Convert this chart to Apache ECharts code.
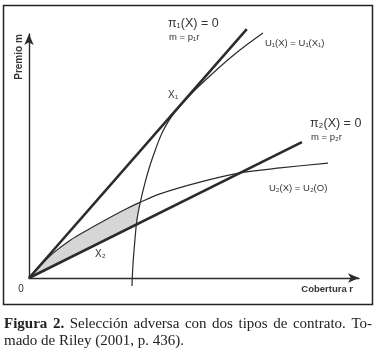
<!DOCTYPE html>
<html>
<head>
<meta charset="utf-8">
<script src="https://cdn.jsdelivr.net/npm/echarts@6/dist/echarts.min.js"></script>
<style>
  html, body { margin: 0; padding: 0; background: #fff; }
  #chart { width: 381px; height: 356px; }
</style>
</head>
<body>
<div id="chart"></div>
<script>
// Axis ranges (coverage r, premium m)
const rRange = [0, 100];
const mRange = [0, 100];

// Zero-profit lines m = p1 r and m = p2 r
const zeroProfit1 = [[0, 0], [66, 102]];
const zeroProfit2 = [[0, 0], [82.7, 55.7]];

// Indifference curve U1(X) = U1(X1)
const indiff1 = [
  [31.2, -3.3], [31.5, 5.3], [32.1, 15.6], [32.7, 23.8], [33.6, 30.3],
  [35.2, 39.3], [36.7, 46.3], [38.5, 53.3], [40.3, 59.4], [42.1, 63.9],
  [44.2, 68.0], [48.8, 75.0], [54.8, 82.8], [62.4, 91.8], [70.9, 100.4]
];

// Indifference curve U2(X) = U2(O)
const indiff2 = [
  [0, 0], [3.3, 4.8], [7.3, 10.2], [12.4, 15.4], [17.6, 19.6], [23.0, 23.7],
  [29.1, 28.1], [33.6, 31.0], [39.7, 34.5], [51.8, 39.3], [63.6, 43.0],
  [76.1, 45.1], [90.6, 47.1]
];

// Shaded lens between U2 and m = p2 r, cut off by U1
const shaded = [
  [0, 0], [3.3, 4.8], [7.3, 10.2], [12.4, 15.4], [17.6, 19.6], [23.0, 23.7],
  [29.1, 28.1], [33.6, 31.0], [32.6, 21.9]
];

// Caption text, first line justified
const captionBold = ['Figura', '2.'];
const captionLine1 = ['Selección', 'adversa', 'con', 'dos', 'tipos', 'de', 'contrato.', 'To-'];
const captionLine2 = 'mado de Riley (2001, p. 436).';

const ink = '#2b2b2b';
const sans = '"Liberation Sans", Arial, sans-serif';
const serif = '"Liberation Serif", "Times New Roman", serif';
const capSize = 15;

const chart = echarts.init(document.getElementById('chart'), null, { renderer: 'canvas' });

function lineSeries(data, width, smooth) {
  return {
    type: 'line',
    data: data,
    symbol: 'none',
    smooth: smooth,
    clip: false,
    silent: true,
    lineStyle: { color: ink, width: width },
    z: 3
  };
}

function label(text, x, y, size, extra) {
  return Object.assign({
    type: 'text',
    x: x,
    y: y,
    silent: true,
    style: Object.assign({
      text: text,
      fontFamily: sans,
      fontSize: size,
      fill: '#333',
      textAlign: 'left',
      textVerticalAlign: 'middle'
    }, (extra && extra.style) || {})
  }, extra && extra.el ? extra.el : {});
}

// Lay out one justified caption line word by word
function justifiedLine(words, y, left, right) {
  const ctx = document.createElement('canvas').getContext('2d');
  const items = words.map(function (w) {
    ctx.font = (w.bold ? 'bold ' : '') + capSize + 'px ' + serif;
    return { text: w.text, bold: w.bold, width: ctx.measureText(w.text).width };
  });
  const total = items.reduce(function (s, it) { return s + it.width; }, 0);
  const gap = (right - left - total) / (items.length - 1);
  let x = left;
  return items.map(function (it) {
    const el = label(it.text, x, y, capSize, {
      style: { fontFamily: serif, fontWeight: it.bold ? 'bold' : 'normal', fill: '#222' }
    });
    x += it.width + gap;
    return el;
  });
}

const line1Words = captionBold.map(function (t) { return { text: t, bold: true }; })
  .concat(captionLine1.map(function (t) { return { text: t, bold: false }; }));

const option = {
  animation: false,
  backgroundColor: '#fff',
  grid: { left: 29, top: 34, right: 22, bottom: 78, containLabel: false },
  xAxis: {
    type: 'value',
    min: rRange[0],
    max: rRange[1],
    axisLine: {
      show: true,
      lineStyle: { color: ink, width: 1.4 },
      symbol: ['none', 'arrow'],
      symbolSize: [7, 11]
    },
    axisTick: { show: false },
    axisLabel: { show: false },
    splitLine: { show: false }
  },
  yAxis: {
    type: 'value',
    min: mRange[0],
    max: mRange[1],
    axisLine: {
      show: true,
      lineStyle: { color: ink, width: 1.4 },
      symbol: ['none', 'arrow'],
      symbolSize: [7, 11]
    },
    axisTick: { show: false },
    axisLabel: { show: false },
    splitLine: { show: false }
  },
  series: [
    {
      type: 'custom',
      data: [[0, 0]],
      clip: false,
      silent: true,
      z: 1,
      renderItem: function (params, api) {
        return {
          type: 'polygon',
          shape: { points: shaded.map(function (p) { return api.coord(p); }) },
          style: { fill: '#d6d6d6', stroke: 'none' }
        };
      }
    },
    lineSeries(zeroProfit1, 2.6, false),
    lineSeries(zeroProfit2, 2.6, false),
    lineSeries(indiff1, 1.2, 0.4),
    lineSeries(indiff2, 1.2, 0.3)
  ],
  graphic: [
    {
      type: 'rect',
      silent: true,
      shape: { x: 3.5, y: 5.5, width: 369, height: 299 },
      style: { fill: 'none', stroke: '#222', lineWidth: 1.5 }
    },
    label('Premio m', 19, 57, 10, {
      el: { rotation: Math.PI / 2 },
      style: { fontWeight: 'bold', textAlign: 'center' }
    }),
    label('Cobertura r', 353, 289, 9.5, { style: { fontWeight: 'bold', textAlign: 'right' } }),
    label('0', 21, 289, 10, { style: { textAlign: 'center' } }),
    label('π₁(X) = 0', 168, 24, 12.5),
    label('m = p₁r', 169, 37, 9.5),
    label('U₁(X) = U₁(X₁)', 265, 43, 9.5),
    label('X₁', 168, 95, 10),
    label('π₂(X) = 0', 310, 124, 12.5),
    label('m = p₂r', 311, 137, 9.5),
    label('U₂(X) = U₂(O)', 269, 188, 9.5),
    label('X₂', 95, 254, 10)
  ].concat(justifiedLine(line1Words, 324, 4, 372))
   .concat([label(captionLine2, 4, 341, capSize, { style: { fontFamily: serif, fill: '#222' } })])
};

chart.setOption(option);
</script>
</body>
</html>
